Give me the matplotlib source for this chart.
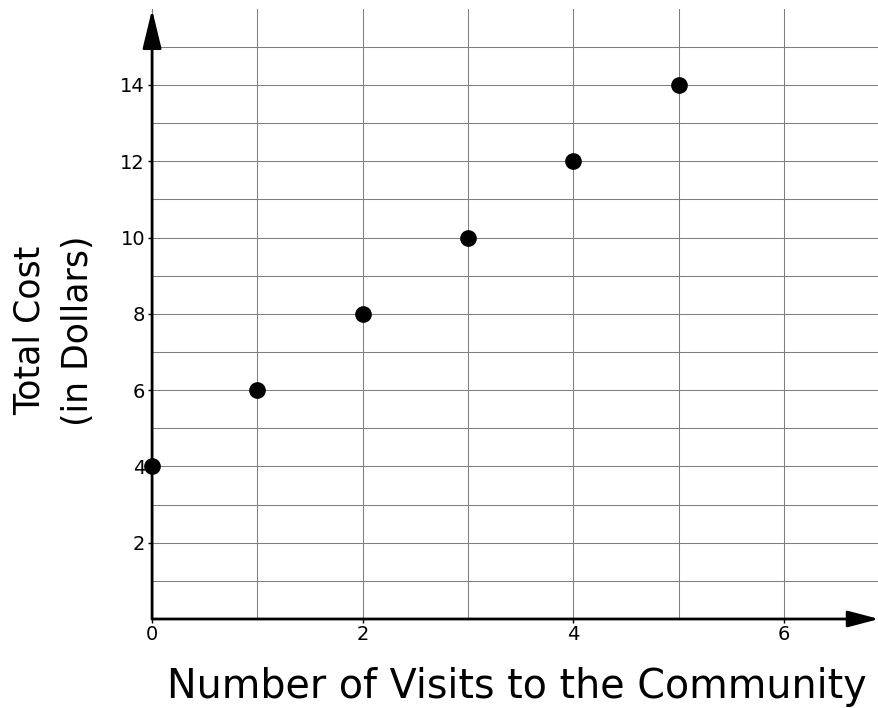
"""Scatter of total cost vs. number of visits, saved to out.png."""
import matplotlib
matplotlib.use("Agg")
import matplotlib.pyplot as plt
import matplotlib.ticker as mticker

visits = [0, 1, 2, 3, 4, 5]
total_cost = [4, 6, 8, 10, 12, 14]
x_ticks = [0, 2, 4, 6]
y_ticks = [2, 4, 6, 8, 10, 12, 14]

GRID = "#7f7f7f"

fig = plt.figure(figsize=(8.79, 7.08), dpi=100)
ax = fig.add_axes([0.173, 0.1257, 0.827, 0.861])

ax.set_xlim(0, 6.9)
ax.set_ylim(0, 15.98)

# grid every unit, labels on even values only
ax.xaxis.set_minor_locator(mticker.MultipleLocator(1))
ax.yaxis.set_minor_locator(mticker.MultipleLocator(1))
ax.set_xticks(x_ticks)
ax.set_yticks(y_ticks)
ax.grid(which="both", color=GRID, linewidth=0.75)
ax.set_axisbelow(True)
ax.tick_params(which="minor", length=0)
ax.tick_params(which="major", length=3, width=1, labelsize=14, pad=2)
ax.tick_params(axis="x", length=3, pad=1)

for s in ax.spines.values():
    s.set_visible(False)

# axes drawn as arrows
ax.annotate("", xy=(0, 1), xytext=(0, 0), xycoords="axes fraction",
            arrowprops=dict(arrowstyle="-|>,head_length=2.4,head_width=0.58",
                            mutation_scale=10, color="black", lw=2,
                            shrinkA=0, shrinkB=0), annotation_clip=False)
ax.annotate("", xy=(1, 0), xytext=(0, 0), xycoords="axes fraction",
            arrowprops=dict(arrowstyle="-|>,head_length=1.9,head_width=0.5",
                            mutation_scale=10, color="black", lw=2,
                            shrinkA=0, shrinkB=0), annotation_clip=False)

ax.plot(visits, total_cost, "o", color="black", markersize=11, clip_on=False, zorder=5)

fig.text(0.588, 0.029, "Number of Visits to the Community", ha="center", va="center",
         fontsize=28.5)
fig.text(0.034, 0.533, "Total Cost", rotation=90, ha="center", va="center", fontsize=25)
fig.text(0.089, 0.533, "(in Dollars)", rotation=90, ha="center", va="center", fontsize=25)

fig.savefig("out.png", dpi=100)
